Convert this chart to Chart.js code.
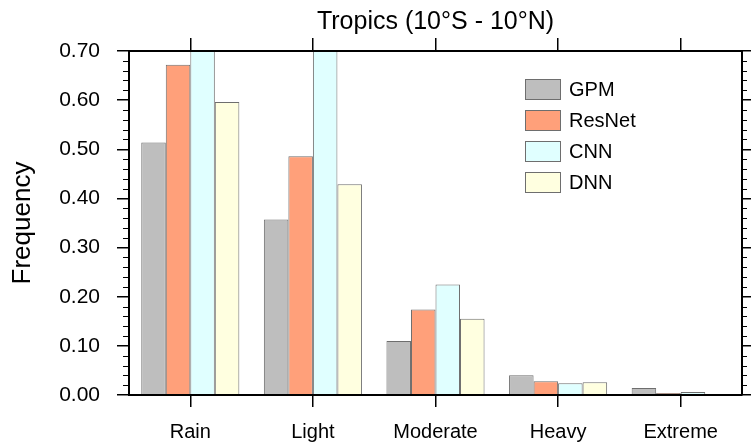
<!DOCTYPE html>
<html>
<head>
<meta charset="utf-8">
<title>Tropics frequency</title>
<script src="https://cdn.jsdelivr.net/npm/chart.js@4.4.1/dist/chart.umd.min.js"></script>
<style>
  html, body { margin: 0; padding: 0; background: #fff; }
  #wrap { width: 751px; height: 448px; }
</style>
</head>
<body>
<div id="wrap"><canvas id="chartTropics" width="751" height="448"></canvas></div>
<script>
"use strict";

// ---- data ----
var categories = ["Rain", "Light", "Moderate", "Heavy", "Extreme"];
var gpm    = [0.514, 0.357, 0.110, 0.040, 0.014];
var resnet = [0.672, 0.486, 0.174, 0.028, 0.004];
var cnn    = [0.760, 0.740, 0.225, 0.024, 0.006];   // first two run past the 0.70 top
var dnn    = [0.596, 0.429, 0.155, 0.026, 0.001];
var yTicks = [0.0, 0.1, 0.2, 0.3, 0.4, 0.5, 0.6, 0.7];
var Y_MIN = 0, Y_MAX = 0.7, Y_STEP = 0.1, Y_MINOR = 0.02;

var GREY = "#bebebe";
var SALMON = "#ffa07a";
var CYAN = "#e0ffff";
var CREAM = "#ffffe0";
var EDGE = "#6e6e6e";
var FONT = "'Liberation Sans', Arial, Helvetica, sans-serif";

function bars(label, data, color) {
  return {
    label: label, data: data,
    backgroundColor: color, borderColor: EDGE, borderWidth: 1,
    barPercentage: 1.0, categoryPercentage: 0.8,
    clip: 0
  };
}

// minor ticks on both y axes (outward, shorter than the major ones)
var minorTicks = {
  id: "minorTicks",
  afterDraw: function (chart) {
    var ctx = chart.ctx, y = chart.scales.y, a = chart.chartArea;
    ctx.save();
    ctx.strokeStyle = "#000";
    ctx.lineWidth = 1;
    var n = Math.round((Y_MAX - Y_MIN) / Y_MINOR);
    for (var i = 0; i <= n; i++) {
      if (i % 5 === 0) continue;
      var py = Math.round(y.getPixelForValue(Y_MIN + i * Y_MINOR)) + 0.5;
      ctx.beginPath();
      ctx.moveTo(a.left - 6, py); ctx.lineTo(a.left, py);
      ctx.moveTo(a.right, py); ctx.lineTo(a.right + 5, py);
      ctx.stroke();
    }
    ctx.restore();
  }
};

// legend box inside the plot, upper right
var boxLegend = {
  id: "boxLegend",
  afterDraw: function (chart) {
    var ctx = chart.ctx, a = chart.chartArea;
    var x0 = a.left + 396, y0 = a.top + 28;
    ctx.save();
    ctx.font = "20px " + FONT;
    ctx.textBaseline = "middle";
    ctx.textAlign = "left";
    chart.data.datasets.forEach(function (ds, i) {
      var by = y0 + i * 31;
      ctx.fillStyle = ds.backgroundColor;
      ctx.fillRect(x0, by, 35, 20);
      ctx.strokeStyle = EDGE;
      ctx.lineWidth = 1;
      ctx.strokeRect(x0 + 0.5, by + 0.5, 35, 20);
      ctx.fillStyle = "#000";
      ctx.fillText(ds.label, x0 + 44, by + 11);
    });
    ctx.restore();
  }
};

new Chart(document.getElementById("chartTropics"), {
  type: "bar",
  data: {
    labels: categories,
    datasets: [
      bars("GPM", gpm, GREY),
      bars("ResNet", resnet, SALMON),
      bars("CNN", cnn, CYAN),
      bars("DNN", dnn, CREAM)
    ]
  },
  options: {
    responsive: false, animation: false, devicePixelRatio: 1,
    layout: { padding: 0 },
    plugins: { legend: { display: false }, tooltip: { enabled: false }, title: { display: false } },
    scales: {
      x: {
        type: "category", position: "bottom", offset: true,
        grid: { offset: false, drawOnChartArea: false, drawTicks: true, tickLength: 12, color: "#000", lineWidth: 1.5, z: 1 },
        border: { display: true, color: "#000", width: 2, z: 1 },
        ticks: { color: "#000", font: { size: 20, family: FONT }, padding: 13, maxRotation: 0 },
        afterFit: function (s) { s.height = 53; }
      },
      x2: {
        type: "category", position: "top", offset: true,
        grid: { offset: false, drawOnChartArea: false, drawTicks: true, tickLength: 13, color: "#000", lineWidth: 1.5, z: 1 },
        border: { display: true, color: "#000", width: 2, z: 1 },
        ticks: { display: false },
        title: { display: true, text: "Tropics (10°S - 10°N)", color: "#000", font: { size: 25, family: FONT }, padding: { top: 7, bottom: 0 } },
        afterFit: function (s) { s.height = 51; }
      },
      y: {
        type: "linear", position: "left", min: Y_MIN, max: Y_MAX,
        afterBuildTicks: function (s) { s.ticks = yTicks.map(function (v) { return { value: v }; }); },
        grid: { drawOnChartArea: false, drawTicks: true, tickLength: 12, color: "#000", lineWidth: 1.5, z: 1 },
        border: { display: true, color: "#000", width: 2, z: 1 },
        ticks: { color: "#000", font: { size: 21, family: FONT }, padding: 17, stepSize: Y_STEP,
                 callback: function (v) { return Number(v).toFixed(2); } },
        title: { display: true, text: "Frequency", color: "#000", font: { size: 26, family: FONT }, padding: { top: 7, bottom: 0 } },
        afterFit: function (s) { s.width = 129; }
      },
      y2: {
        type: "linear", position: "right", min: Y_MIN, max: Y_MAX,
        afterBuildTicks: function (s) { s.ticks = yTicks.map(function (v) { return { value: v }; }); },
        grid: { drawOnChartArea: false, drawTicks: true, tickLength: 9, color: "#000", lineWidth: 1.5, z: 1 },
        border: { display: true, color: "#000", width: 2, z: 1 },
        ticks: { display: false },
        afterFit: function (s) { s.width = 9; }
      }
    }
  },
  plugins: [minorTicks, boxLegend]
});
</script>
</body>
</html>
